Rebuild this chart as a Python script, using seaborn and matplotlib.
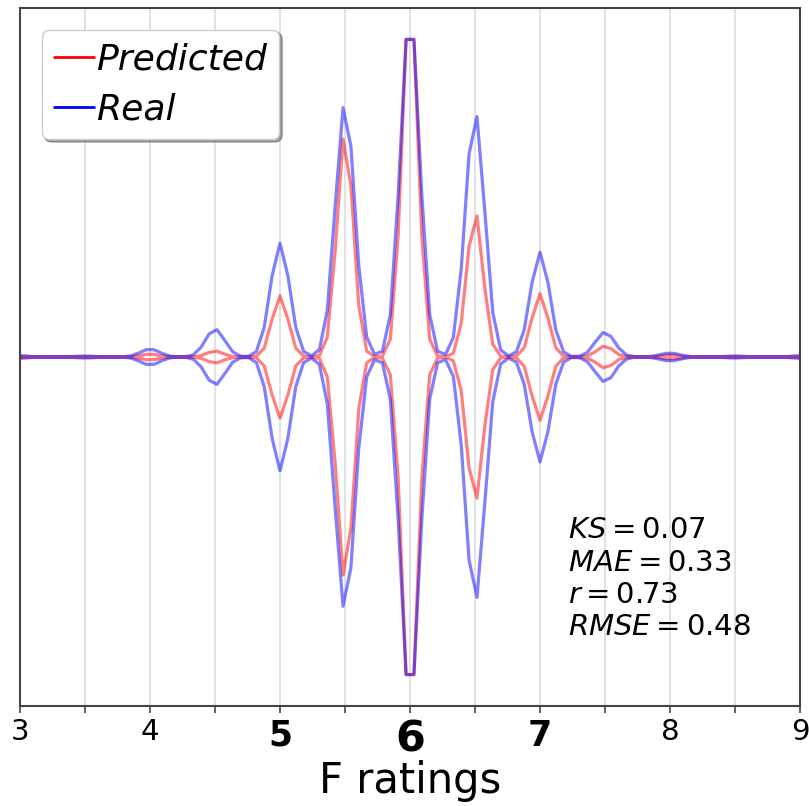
import numpy as np
import pandas as pd
import seaborn as sns
import matplotlib.pyplot as plt
from matplotlib.lines import Line2D

# Rating values and how often each occurs
ratings = [3.0, 3.5, 4.0, 4.5, 5.0, 5.5, 6.0, 6.5, 7.0, 7.5, 8.0, 8.5, 9.0]
real_counts = [1, 1, 8, 28, 114, 255, 346, 246, 105, 25, 4, 1, 1]
pred_counts = [1, 0, 3, 6, 61, 224, 357, 145, 63, 11, 2, 0, 1]

tick_values = [3, 3.5, 4, 4.5, 5, 5.5, 6, 6.5, 7, 7.5, 8, 8.5, 9]
stats_text = "$KS = 0.07$\n$MAE = 0.33$\n$r = 0.73$\n$RMSE = 0.48$"

# Build observation table
df = pd.concat([
    pd.DataFrame({"rating": np.repeat(ratings, pred_counts), "kind": "Predicted"}),
    pd.DataFrame({"rating": np.repeat(ratings, real_counts), "kind": "Real"}),
])
df["group"] = "all"

sns.set_style("white")
plt.rcParams.update({"text.color": "black", "axes.labelcolor": "black",
                     "xtick.color": "black"})
fig = plt.figure(figsize=(8.09, 8.06), dpi=100)
ax = fig.add_axes([20 / 809, 1 - 706 / 806, 780 / 809, 698 / 806])

# red first, blue drawn over it
sns.violinplot(data=df, x="rating", y="group", hue="kind",
               hue_order=["Predicted", "Real"],
               palette={"Real": "blue", "Predicted": "red"},
               dodge=False, fill=False, inner=None, cut=0, gridsize=100,
               bw_method=0.107, density_norm="width", width=0.91,
               linewidth=2.3, alpha=0.5, legend=False, ax=ax)

ax.set_xlim(3, 9)
ax.set_ylim(0.5, -0.5)
ax.set_yticks([])
ax.set_ylabel("")

ax.set_xticks(tick_values)
ax.set_xticklabels([str(int(t)) if t == int(t) else "" for t in tick_values])
for lab, t in zip(ax.get_xticklabels(), tick_values):
    lab.set_fontsize(21)
    if t in (5, 7):
        lab.set_fontsize(25)
        lab.set_fontweight("bold")
    if t == 6:
        lab.set_fontsize(31)
        lab.set_fontweight("bold")
ax.tick_params(axis="x", length=5, width=1.2, color="#444444", direction="out",
               bottom=True, pad=4)
ax.xaxis.grid(True, color="#dddddd", linewidth=1.2)
ax.set_axisbelow(True)
ax.set_xlabel("F ratings", fontsize=30, labelpad=0)

for s in ax.spines.values():
    s.set_visible(True)
    s.set_color("#444444")
    s.set_linewidth(1.5)

handles = [Line2D([], [], color="red", lw=2), Line2D([], [], color="blue", lw=2)]
ax.legend(handles, ["Predicted", "Real"], loc="upper left",
          prop={"size": 26, "style": "italic"}, handlelength=1.1,
          handletextpad=0.05, labelspacing=0.45, fancybox=True, shadow=True,
          framealpha=1, borderaxespad=0.6, borderpad=0.35)

ax.text(0.702, 0.272, stats_text, transform=ax.transAxes, fontsize=21,
        va="top", ha="left", linespacing=1.2)

fig.savefig("out.png", dpi=100)
